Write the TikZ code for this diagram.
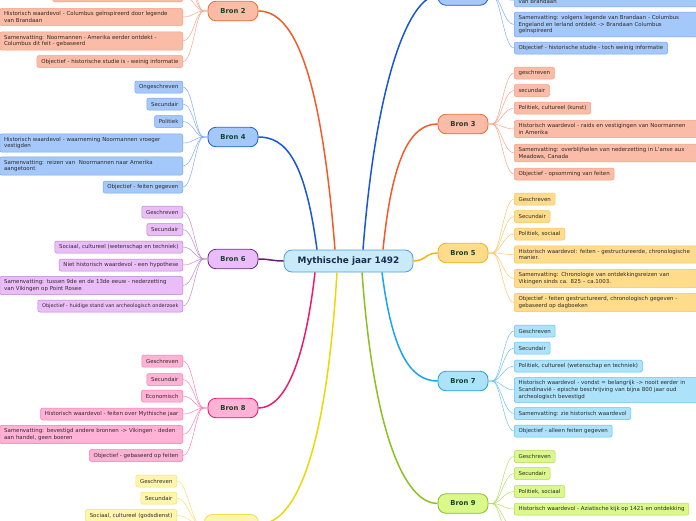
\documentclass[tikz,border=0pt]{standalone}
\usepackage{fontspec}
\setmainfont{DejaVu Sans}
\usetikzlibrary{calc}
\definecolor{salF}{HTML}{FABCA6}\definecolor{salB}{HTML}{F4A184}\definecolor{salD}{HTML}{EF6C3A}\definecolor{salL}{HTML}{F25C27}
\definecolor{bluF}{HTML}{A5C8FA}\definecolor{bluB}{HTML}{74A8F3}\definecolor{bluD}{HTML}{1F60D2}\definecolor{bluL}{HTML}{1857D5}
\definecolor{purF}{HTML}{EBBDF8}\definecolor{purB}{HTML}{BC84CF}\definecolor{purD}{HTML}{6C2B7C}\definecolor{purL}{HTML}{6A1E75}
\definecolor{pnkF}{HTML}{FFB2D6}\definecolor{pnkB}{HTML}{F57CB4}\definecolor{pnkD}{HTML}{E3166F}\definecolor{pnkL}{HTML}{EF1A6F}
\definecolor{yelF}{HTML}{FFF6AC}\definecolor{yelB}{HTML}{F1E26C}\definecolor{yelD}{HTML}{EEDD55}\definecolor{yelL}{HTML}{ECD80A}
\definecolor{gldF}{HTML}{FFDB8C}\definecolor{gldB}{HTML}{F8C45A}\definecolor{gldD}{HTML}{F1B125}\definecolor{gldL}{HTML}{F6B417}
\definecolor{cyaF}{HTML}{ACE2FA}\definecolor{cyaB}{HTML}{62C1F0}\definecolor{cyaD}{HTML}{22A2E2}\definecolor{cyaL}{HTML}{17A7EE}
\definecolor{grnF}{HTML}{DBF98A}\definecolor{grnB}{HTML}{B0DC50}\definecolor{grnD}{HTML}{8BBE1E}\definecolor{grnL}{HTML}{8CC220}
\definecolor{ctrF}{HTML}{C9EAF9}\definecolor{ctrD}{HTML}{4E9FD9}
\definecolor{leafT}{HTML}{2E2A28}\definecolor{bronT}{HTML}{16452C}\definecolor{ctrT}{HTML}{1A2B4C}
\newcommand\lffont{\fontsize{5.45}{6.7}\selectfont}
\newcommand\brfont{\fontsize{6.8}{8}\selectfont\bfseries}
\newcommand\ctfont{\fontsize{8.9}{10}\selectfont\bfseries}
\newcommand\twL[3]{\draw[twig,draw=#3] (#1.west) -- ++(-4,0) .. controls +(-8,0) and +(10,0) .. (#2.east);}
\newcommand\twR[3]{\draw[twig,draw=#3] (#1.east) -- ++(4,0) .. controls +(8,0) and +(-10,0) .. (#2.west);}
\begin{document}
\begin{tikzpicture}[x=1pt,y=-1pt,
  leaf/.style={draw, rounded corners=2pt, line width=0.5pt, inner xsep=4.3pt, inner ysep=3.1pt, minimum height=12pt, font=\lffont, text=leafT, align=left},
  wide/.style={text width=174.4pt},
  bron/.style={draw, rounded corners=8pt, line width=0.8pt, minimum width=50pt, minimum height=19.5pt, font=\brfont, text=bronT, inner sep=0pt},
  twig/.style={line width=0.45pt},
  limb/.style={line width=1.5pt},
  sal/.style={fill=salF, draw=salB}, blu/.style={fill=bluF, draw=bluB}, pur/.style={fill=purF, draw=purB},
  pnk/.style={fill=pnkF, draw=pnkB}, yel/.style={fill=yelF, draw=yelB}, gld/.style={fill=gldF, draw=gldB},
  cya/.style={fill=cyaF, draw=cyaB}, grn/.style={fill=grnF, draw=grnB},
  L/.style={anchor=east}, R/.style={anchor=west}]
\clip (0,0) rectangle (696,520);
\fill[white] (0,0) rectangle (696,520);

% centre
\node[draw=ctrD, fill=ctrF, line width=0.8pt, rounded corners=8pt, minimum width=129pt, minimum height=22pt, font=\ctfont, text=ctrT, inner sep=0pt] (c) at (348.5,261) {Mythische jaar 1492};

% main topics
\node[bron, fill=salF, draw=salD] (b2) at (233,11) {Bron 2};
\node[bron, fill=bluF, draw=bluD] (b4) at (233,137) {Bron 4};
\node[bron, fill=purF, draw=purD] (b6) at (233,259) {Bron 6};
\node[bron, fill=pnkF, draw=pnkD] (b8) at (233,408) {Bron 8};
\node[bron, fill=yelF, draw=yelD, minimum width=54pt, anchor=north west] (b10) at (204,514) {};
\node[bron, fill=bluF, draw=bluD] (b1) at (463,-4.5) {};
\node[bron, fill=salF, draw=salD] (b3) at (463,124) {Bron 3};
\node[bron, fill=gldF, draw=gldD] (b5) at (463,253) {Bron 5};
\node[bron, fill=cyaF, draw=cyaD] (b7) at (463,381) {Bron 7};
\node[bron, fill=grnF, draw=grnD] (b9) at (463,503.5) {Bron 9};

% limbs
\draw[limb, salL] ($(c.north)+(-13.5,0)$) .. controls +(-15,-190) and +(32,0) .. (b2.east);
\draw[limb, bluL] ($(c.north)+(-31.5,0)$) .. controls +(-12,-90) and +(27,0) .. (b4.east);
\draw[limb, purL] (c.west) .. controls +(-12,0) and +(12,0) .. (b6.east);
\draw[limb, pnkL] ($(c.south)+(-33.5,0)$) .. controls +(-10,88) and +(27,0) .. (b8.east);
\draw[limb, yelL] ($(c.south)+(-11.5,0)$) .. controls +(-12,198) and +(32,0) .. (b10.east);
\draw[limb, bluL] ($(c.north)+(14.5,0)$) .. controls +(14,-180) and +(-26,0) .. (b1.west);
\draw[limb, salL] ($(c.north)+(34.5,0)$) .. controls +(9,-90) and +(-28,0) .. (b3.west);
\draw[limb, gldL] (c.east) .. controls +(12,0) and +(-12,0) .. (b5.west);
\draw[limb, cyaL] ($(c.south)+(33.5,0)$) .. controls +(10,78) and +(-28,0) .. (b7.west);
\draw[limb, grnL] ($(c.south)+(13.5,0)$) .. controls +(13,178) and +(-28,0) .. (b9.west);

% Bron 2
\node[leaf, sal, anchor=south east, minimum width=130pt] (b2a) at (183,2) {};
\node[leaf, sal, L, wide] (b2h) at (183,17) {Historisch waardevol - Columbus geïnspireerd door legende\\van Brandaan};
\node[leaf, sal, L, wide] (b2s) at (183,41) {Samenvatting: Noormannen - Amerika eerder ontdekt -\\Columbus dit feit - gebaseerd};
\node[leaf, sal, L] (b2o) at (183,61.5) {Objectief - historische studie is - weinig informatie};
\coordinate (b2x) at (183,-22); \coordinate (b2y) at (183,-40);
\foreach \k in {b2y,b2x,b2a,b2h,b2s,b2o} {\twL{b2}{\k}{salB}}

% Bron 4
\node[leaf, blu, L] (b4a) at (183,87) {Ongeschreven};
\node[leaf, blu, L] (b4b) at (183,104) {Secundair};
\node[leaf, blu, L] (b4c) at (183,121.5) {Politiek};
\node[leaf, blu, L, wide] (b4d) at (183,143) {Historisch waardevol - waarneming Noormannen vroeger\\vestigden};
\node[leaf, blu, L, wide] (b4e) at (183,166) {Samenvatting: reizen van\ \ Noormannen naar Amerika\\aangetoont};
\node[leaf, blu, L] (b4f) at (183,187) {Objectief - feiten gegeven};
\foreach \k in {b4a,b4b,b4c,b4d,b4e,b4f} {\twL{b4}{\k}{bluB}}

% Bron 6
\node[leaf, pur, L] (b6a) at (183,212) {Geschreven};
\node[leaf, pur, L] (b6b) at (183,229.5) {Secundair};
\node[leaf, pur, L] (b6c) at (183,247) {Sociaal, cultureel (wetenschap en techniek)};
\node[leaf, pur, L] (b6d) at (183,265) {Niet historisch waardevol - een hypothese};
\node[leaf, pur, L, wide] (b6e) at (183,285.5) {Samenvatting: tussen 9de en de 13de eeuw - nederzetting\\van Vikingen op Point Rosee};
\node[leaf, pur, L, font=\fontsize{5}{6}\selectfont] (b6f) at (183,306) {Objectief - huidige stand van archeologisch onderzoek};
\foreach \k in {b6a,b6b,b6c,b6d,b6e,b6f} {\twL{b6}{\k}{purB}}

% Bron 8
\node[leaf, pnk, L] (b8a) at (183,361) {Geschreven};
\node[leaf, pnk, L] (b8b) at (183,379.5) {Secundair};
\node[leaf, pnk, L] (b8c) at (183,396) {Economisch};
\node[leaf, pnk, L] (b8d) at (183,414) {Historisch waardevol - feiten over Mythische jaar};
\node[leaf, pnk, L, wide] (b8e) at (183,434.5) {Samenvatting: bevestigd andere bronnen -> Vikingen - deden\\aan handel, geen boeren};
\node[leaf, pnk, L] (b8f) at (183,455.5) {Objectief - gebaseerd op feiten};
\foreach \k in {b8a,b8b,b8c,b8d,b8e,b8f} {\twL{b8}{\k}{pnkB}}

% Bron 10
\node[leaf, yel, L] (b10a) at (177,481) {Geschreven};
\node[leaf, yel, L] (b10b) at (177,498) {Secundair};
\node[leaf, yel, L] (b10c) at (177,515.5) {Sociaal, cultureel (godsdienst)};
\coordinate (b10d) at (177,533); \coordinate (b10e) at (177,551); \coordinate (b10f) at (177,569);
\foreach \k in {b10a,b10b,b10c,b10d,b10e,b10f} {\twL{b10}{\k}{yelB}}

% Bron 1
\node[leaf, blu, anchor=south west, wide] (b1a) at (514,7) {\mbox{}\\van Brandaan};
\node[leaf, blu, R, wide] (b1b) at (514,24.5) {Samenvatting: volgens legende van Brandaan - Columbus\\Engeland en Ierland ontdekt -> Brandaan Columbus\\geïnspireerd};
\node[leaf, blu, R] (b1c) at (514,48) {Objectief - historische studie - toch weinig informatie};
\coordinate (b1x) at (514,-22); \coordinate (b1y) at (514,-40); \coordinate (b1z) at (514,-58);
\foreach \k in {b1z,b1y,b1x,b1a,b1b,b1c} {\twR{b1}{\k}{bluB}}

% Bron 3
\node[leaf, sal, R] (b3a) at (514,73) {geschreven};
\node[leaf, sal, R] (b3b) at (514,90.5) {secundair};
\node[leaf, sal, R] (b3c) at (514,108) {Politiek, cultureel (kunst)};
\node[leaf, sal, R, wide] (b3d) at (514,129) {Historisch waardevol - raids en vestigingen van Noormannen\\in Amerika};
\node[leaf, sal, R, wide] (b3e) at (514,153) {Samenvatting: overblijfselen van nederzetting in L'anse aux\\Meadows, Canada};
\node[leaf, sal, R] (b3f) at (514,174) {Objectief - opsomming van feiten};
\foreach \k in {b3a,b3b,b3c,b3d,b3e,b3f} {\twR{b3}{\k}{salB}}

% Bron 5
\node[leaf, gld, R] (b5a) at (514,199) {Geschreven};
\node[leaf, gld, R] (b5b) at (514,216.5) {Secundair};
\node[leaf, gld, R] (b5c) at (514,234) {Politiek, sociaal};
\node[leaf, gld, R, wide] (b5d) at (514,254.5) {Historisch waardevol: feiten - gestructureerde, chronologische\\manier.};
\node[leaf, gld, R, wide] (b5e) at (514,278.5) {Samenvatting: Chronologie van ontdekkingsreizen van\\Vikingen sinds ca. 825 – ca.1003.};
\node[leaf, gld, R, wide] (b5f) at (514,302.5) {Objectief - feiten gestructureerd, chronologisch gegeven -\\gebaseerd op dagboeken};
\foreach \k in {b5a,b5b,b5c,b5d,b5e,b5f} {\twR{b5}{\k}{gldB}}

% Bron 7
\node[leaf, cya, R] (b7a) at (514,331) {Geschreven};
\node[leaf, cya, R] (b7b) at (514,348) {Secundair};
\node[leaf, cya, R] (b7c) at (514,366) {Politiek, cultureel (wetenschap en techniek)};
\node[leaf, cya, R, wide] (b7d) at (514,390) {Historisch waardevol - vondst = belangrijk -> nooit eerder in\\Scandinavië - epische beschrijving van bijna 800 jaar oud\\archeologisch bevestigd};
\node[leaf, cya, R] (b7e) at (514,413.5) {Samenvatting: zie historisch waardevol};
\node[leaf, cya, R] (b7f) at (514,431) {Objectief - alleen feiten gegeven};
\foreach \k in {b7a,b7b,b7c,b7d,b7e,b7f} {\twR{b7}{\k}{cyaB}}

% Bron 9
\node[leaf, grn, R] (b9a) at (514,456.5) {Geschreven};
\node[leaf, grn, R] (b9b) at (514,473.5) {Secundair};
\node[leaf, grn, R] (b9c) at (514,491.5) {Politiek, sociaal};
\node[leaf, grn, R] (b9d) at (514,509) {Historisch waardevol - Aziatische kijk op 1421 en ontdekking};
\coordinate (b9e) at (514,527); \coordinate (b9f) at (514,546);
\foreach \k in {b9a,b9b,b9c,b9d,b9e,b9f} {\twR{b9}{\k}{grnB}}
\end{tikzpicture}
\end{document}
